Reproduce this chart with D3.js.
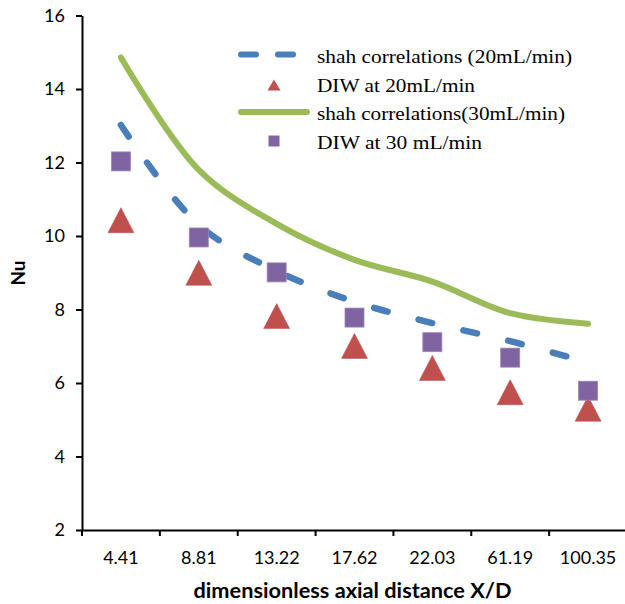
<!DOCTYPE html>
<html>
<head>
<meta charset="utf-8">
<script src="https://cdn.jsdelivr.net/npm/d3@7"></script>
<style>
  html, body { margin: 0; padding: 0; background: #fff; }
  svg { display: block; }
</style>
</head>
<body>
<svg id="chart" width="625" height="604"></svg>
<script>
// Dimensionless axial distance X/D (category axis)
const categories = ["4.41", "8.81", "13.22", "17.62", "22.03", "61.19", "100.35"];

// Nusselt number series
const shah20 = [13.02, 10.3, 9.05, 8.21, 7.63, 7.14, 6.56];
const diw20  = [10.43, 9.0, 7.82, 7.01, 6.41, 5.75, 5.3];
const shah30 = [14.86, 11.8, 10.33, 9.35, 8.76, 7.9, 7.61];
const diw30  = [12.03, 9.96, 9.01, 7.78, 7.11, 6.69, 5.79];

const yTicks = [2, 4, 6, 8, 10, 12, 14, 16];

const legendLabels = [
  "shah correlations (20mL/min)",
  "DIW at 20mL/min",
  "shah correlations(30mL/min)",
  "DIW at 30 mL/min"
];

const colors = { blue: "#4a7ebb", red: "#c0504d", green: "#9bbb59", purple: "#8064a2" };

const svg = d3.select("#chart");
const plotLeft = 82, plotRight = 627, plotTop = 15.5, plotBottom = 530;

const x = d3.scaleBand().domain(categories).range([plotLeft, plotRight]).paddingInner(0).paddingOuter(0);
const y = d3.scaleLinear().domain([2, 16]).range([plotBottom, plotTop]);
const cx = c => x(c) + x.bandwidth() / 2;

const tickFont = "Lato, 'Open Sans', sans-serif";

// Y axis
const yAxis = svg.append("g")
  .attr("transform", `translate(${plotLeft},0)`)
  .call(d3.axisLeft(y).tickValues(yTicks).tickSize(6).tickSizeOuter(0).tickPadding(11).tickFormat(d3.format("d")));
yAxis.selectAll("text").attr("font-family", tickFont).attr("font-size", 18).attr("fill", "#000");
yAxis.selectAll("line, path").attr("stroke", "#000").attr("stroke-width", 2);

// X axis: labels centred in each category, ticks on category boundaries
const xAxis = svg.append("g")
  .attr("transform", `translate(0,${plotBottom})`)
  .call(d3.axisBottom(x).tickSize(0).tickSizeOuter(0).tickPadding(21));
xAxis.selectAll("text").attr("font-family", tickFont).attr("font-size", 18).attr("fill", "#000");
xAxis.select("path.domain").attr("stroke", "#000").attr("stroke-width", 2);
const bounds = categories.map(c => x(c)).concat([x.range()[1]]);
xAxis.selectAll("line.bound")
  .data(bounds)
  .enter().append("line")
  .attr("class", "bound")
  .attr("x1", d => d).attr("x2", d => d)
  .attr("y1", 0).attr("y2", 6)
  .attr("stroke", "#000").attr("stroke-width", 2);

// Axis titles
svg.append("text")
  .attr("x", 352.5).attr("y", 597.5)
  .attr("text-anchor", "middle")
  .attr("font-family", tickFont).attr("font-weight", "bold").attr("font-size", 20)
  .attr("textLength", 318).attr("lengthAdjust", "spacingAndGlyphs")
  .text("dimensionless axial distance X/D");

svg.append("text")
  .attr("transform", "translate(25,273) rotate(-90)")
  .attr("text-anchor", "middle")
  .attr("font-family", tickFont).attr("font-weight", "bold").attr("font-size", 19)
  .text("Nu");

// Correlation lines
const line = d3.line()
  .x((d, i) => cx(categories[i]))
  .y(d => y(d))
  .curve(d3.curveCatmullRom.alpha(0.5));

svg.append("path")
  .datum(shah30)
  .attr("d", line)
  .attr("fill", "none")
  .attr("stroke", colors.green)
  .attr("stroke-width", 6)
  .attr("stroke-linecap", "round");

svg.append("path")
  .datum(shah20)
  .attr("d", line)
  .attr("fill", "none")
  .attr("stroke", colors.blue)
  .attr("stroke-width", 6.5)
  .attr("stroke-linecap", "round")
  .attr("stroke-dasharray", "14 32");

// Triangle marker centred on its bounding box
const triPath = (w, h) => {
  const p = d3.path();
  p.moveTo(0, -h / 2);
  p.lineTo(w / 2, h / 2);
  p.lineTo(-w / 2, h / 2);
  p.closePath();
  return p.toString();
};

svg.append("g").selectAll("path")
  .data(diw20)
  .enter().append("path")
  .attr("d", triPath(26, 25))
  .attr("transform", (d, i) => `translate(${cx(categories[i])},${y(d)})`)
  .attr("fill", colors.red)
  .attr("stroke", "#b84a47").attr("stroke-width", 0.5);

const sq = 19;
svg.append("g").selectAll("rect")
  .data(diw30)
  .enter().append("rect")
  .attr("x", (d, i) => cx(categories[i]) - sq / 2)
  .attr("y", d => y(d) - sq / 2)
  .attr("width", sq).attr("height", sq)
  .attr("fill", colors.purple)
  .attr("stroke", "#9a86b8").attr("stroke-width", 0.8);

// Legend
const legend = svg.append("g");
const legX = 317, rowY = [56.5, 85, 113.5, 142];
const legWidths = [255, 158, 248, 165];
legend.selectAll("text")
  .data(legendLabels)
  .enter().append("text")
  .attr("x", legX)
  .attr("y", (d, i) => rowY[i])
  .attr("dy", "0.35em")
  .attr("font-family", "'Liberation Serif', 'Times New Roman', serif")
  .attr("font-size", 19.5)
  .attr("textLength", (d, i) => legWidths[i])
  .attr("lengthAdjust", "spacingAndGlyphs")
  .attr("fill", "#000")
  .text(d => d);

legend.append("line")
  .attr("x1", 241).attr("x2", 294).attr("y1", rowY[0] - 2).attr("y2", rowY[0] - 2)
  .attr("stroke", colors.blue).attr("stroke-width", 6).attr("stroke-linecap", "round")
  .attr("stroke-dasharray", "15 22");

legend.append("path")
  .attr("d", triPath(13, 11))
  .attr("transform", `translate(274,${rowY[1]})`)
  .attr("fill", colors.red);

legend.append("line")
  .attr("x1", 241).attr("x2", 307).attr("y1", rowY[2] - 1.5).attr("y2", rowY[2] - 1.5)
  .attr("stroke", colors.green).attr("stroke-width", 6).attr("stroke-linecap", "round");

legend.append("rect")
  .attr("x", 274 - 5.5).attr("y", rowY[3] - 1 - 5.5)
  .attr("width", 11).attr("height", 11)
  .attr("fill", colors.purple);
</script>
</body>
</html>
